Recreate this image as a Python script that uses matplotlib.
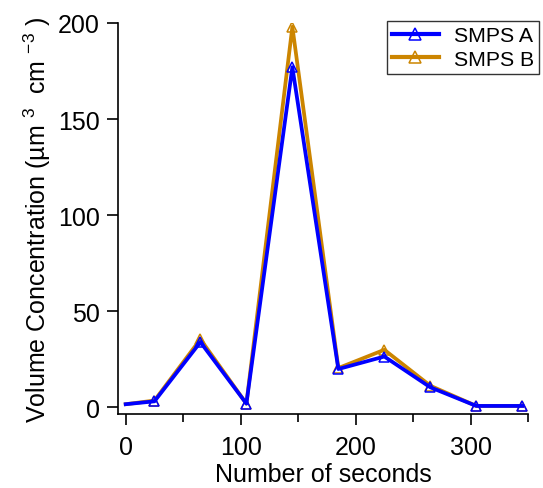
import numpy as np
import matplotlib.pyplot as plt
from matplotlib.lines import Line2D
from matplotlib.ticker import MultipleLocator

plt.rcParams.update({"font.family": ["Liberation Sans", "DejaVu Sans"], "mathtext.fontset": "custom",
                     "mathtext.rm": "Liberation Sans", "mathtext.it": "Liberation Sans"})

seconds = [0, 25, 65, 105, 145, 185, 225, 265, 305, 345]
smps_a = [1.7, 3.2, 34, 2, 177, 20, 26.5, 10.5, 0.8, 0.8]
smps_b = [1.7, 3.6, 35.5, 2, 198, 20.5, 30, 11.3, 0.8, 0.8]
BLUE, GOLD = "#0000ff", "#cc8500"

fig = plt.figure(figsize=(5.43, 4.89), dpi=100)
ax = fig.add_axes([0.2173, 0.1513, 0.7551, 0.7997])

mk = dict(marker="^", ms=7.5, mfc="none", mew=1.1, lw=2.7)
every = list(range(1, len(seconds)))
ax.plot(seconds, smps_b, color=GOLD, markevery=every, **mk)
ax.plot(seconds, smps_a, color=BLUE, markevery=every, **mk)

ax.set_xlim(-6.7, 350)
ax.set_ylim(-3.4, 200)
ax.spines["top"].set_visible(False)
ax.spines["right"].set_visible(False)
for s in ("left", "bottom"):
    ax.spines[s].set_linewidth(1.2)
ax.xaxis.set_major_locator(MultipleLocator(100))
ax.xaxis.set_minor_locator(MultipleLocator(50))
ax.yaxis.set_major_locator(MultipleLocator(50))
ax.tick_params(which="major", direction="out", length=8, width=1.2, labelsize=18, pad=5)
ax.tick_params(axis="x", which="major", pad=7)
ax.tick_params(which="minor", direction="out", length=6, width=1.2)

ax.set_xlabel("Number of seconds", fontsize=18, labelpad=2)
ax.set_ylabel("Volume Concentration (µm $^{3}$  cm $^{-3}$ )", fontsize=18, labelpad=4)

lk = dict(mk, ms=9, lw=3)
handles = [Line2D([], [], color=BLUE, **lk), Line2D([], [], color=GOLD, **lk)]
leg = ax.legend(handles, ["SMPS A", "SMPS B"], loc="upper right", bbox_to_anchor=(1.027, 1.005),
                fontsize=15.3, fancybox=False, edgecolor="#333333", framealpha=1, handlelength=2.2,
                borderpad=0.25, labelspacing=0.2, handletextpad=0.7, borderaxespad=0, numpoints=1)
leg.get_frame().set_linewidth(1.0)

fig.savefig("out.png", dpi=100)
